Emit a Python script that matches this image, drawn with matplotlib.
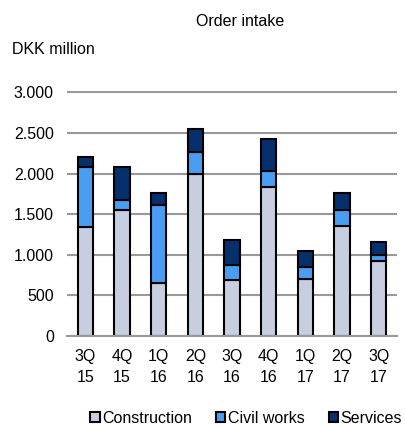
import matplotlib
matplotlib.use("Agg")
import matplotlib.pyplot as plt
import numpy as np

plt.rcParams['font.family'] = ['Liberation Sans', 'DejaVu Sans']

quarters = ["3Q\n15", "4Q\n15", "1Q\n16", "2Q\n16", "3Q\n16", "4Q\n16", "1Q\n17", "2Q\n17", "3Q\n17"]
construction = [1345, 1550, 655, 1990, 690, 1835, 700, 1360, 918]
civil_works = [735, 120, 960, 275, 185, 200, 150, 195, 85]
services = [125, 410, 150, 285, 305, 385, 195, 200, 150]
yticks = [0, 500, 1000, 1500, 2000, 2500, 3000]
ytick_labels = ["0", "500", "1.000", "1.500", "2.000", "2.500", "3.000"]

c_con = "#C6CEE0"
c_civ = "#4A9EF2"
c_ser = "#06306B"
fs = 11.5

fig = plt.figure(figsize=(4.05, 4.26), dpi=100)
ax = fig.add_axes([67/405, 1-336/426, (397-67)/405, (336-90.7)/426])

x = np.arange(len(quarters))
w = 0.41
con = np.array(construction)
civ = np.array(civil_works)
ser = np.array(services)
ax.bar(x, con, w, color=c_con, edgecolor="black", linewidth=1.5, label="Construction", zorder=3)
ax.bar(x, civ, w, bottom=con, color=c_civ, edgecolor="black", linewidth=1.5, label="Civil works", zorder=3)
ax.bar(x, ser, w, bottom=con + civ, color=c_ser, edgecolor="black", linewidth=1.5, label="Services", zorder=3)

ax.set_xlim(-0.5, len(quarters) - 0.5)
ax.set_ylim(0, 3020)
ax.set_yticks(yticks)
ax.set_yticklabels(ytick_labels, fontsize=fs)
ax.set_xticks(x)
ax.set_xticklabels(quarters, fontsize=fs, linespacing=1.55)
ax.tick_params(axis='y', length=0, pad=9.5)
ax.tick_params(axis='x', length=0, pad=9)
ax.grid(axis='y', color="#999999", linewidth=1.5, zorder=0)
for s in ["top", "right", "left"]:
    ax.spines[s].set_visible(False)
ax.spines["bottom"].set_color("#999999")
ax.spines["bottom"].set_linewidth(1.5)
ax.spines["bottom"].set_zorder(4)

fig.text(240/405, 1-21/426, "Order intake", ha="center", va="center", fontsize=fs)
fig.text(12.5/405, 1-50/426, "DKK million", ha="left", va="center", fontsize=fs)

fig.legend(loc="center", bbox_to_anchor=(246/405, 1-418.5/426), ncol=3, frameon=False,
           fontsize=fs, handlelength=0.6, handleheight=0.6, handletextpad=0.15,
           columnspacing=1.5, borderpad=0)

fig.savefig("out.png", dpi=100, facecolor="white")
